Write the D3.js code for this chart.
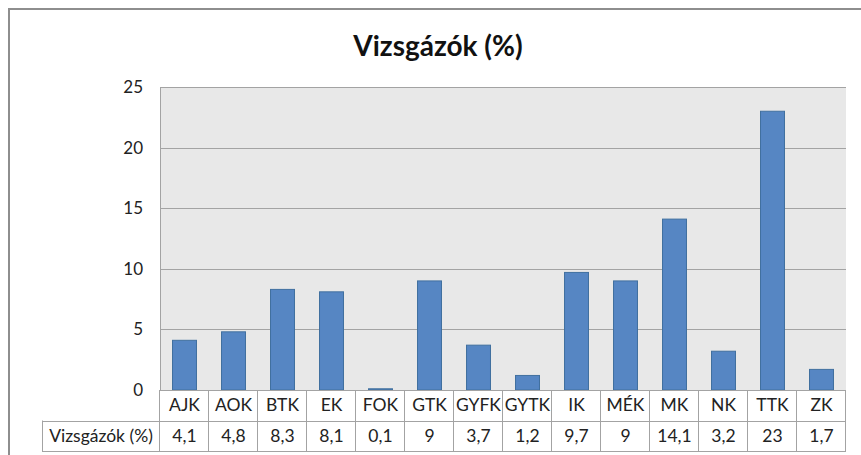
<!DOCTYPE html>
<html>
<head>
<meta charset="utf-8">
<script src="https://cdn.jsdelivr.net/npm/d3@7"></script>
<style>
  body { margin: 0; background: #fff; }
  svg { display: block; font-family: Lato, "Open Sans", sans-serif; }
</style>
</head>
<body>
<script>
// chart data
var categories = ["AJK", "AOK", "BTK", "EK", "FOK", "GTK", "GYFK", "GYTK", "IK", "MÉK", "MK", "NK", "TTK", "ZK"];
var values = [4.1, 4.8, 8.3, 8.1, 0.1, 9, 3.7, 1.2, 9.7, 9, 14.1, 3.2, 23, 1.7];
var yTicks = [0, 5, 10, 15, 20, 25];
var seriesName = "Vizsgázók (%)";
var title = "Vizsgázók (%)";

var W = 861, H = 455;
var plot = {left: 160, top: 87, right: 846, bottom: 390};
var tableLeft = 42, rowH = 30.5;

var svg = d3.select("body").append("svg")
    .attr("width", W)
    .attr("height", H);

// chart frame
svg.append("rect")
    .attr("x", 9).attr("y", 9)
    .attr("width", W).attr("height", H)
    .style("fill", "#fff")
    .style("stroke", "#8e8e8e")
    .style("stroke-width", 2);

svg.append("text")
    .attr("x", 438).attr("y", 56)
    .attr("text-anchor", "middle")
    .style("font-size", "28px")
    .style("font-weight", "bold")
    .style("fill", "#111")
    .text(title);

var x = d3.scaleBand()
    .domain(categories)
    .range([plot.left, plot.right])
    .paddingInner(0.49)
    .paddingOuter(0.245);

var bands = d3.scaleBand()
    .domain(categories)
    .range([plot.left, plot.right]);

var y = d3.scaleLinear()
    .domain([0, 25])
    .range([plot.bottom, plot.top]);

svg.append("rect")
    .attr("x", plot.left).attr("y", plot.top)
    .attr("width", plot.right - plot.left)
    .attr("height", plot.bottom - plot.top)
    .style("fill", "#e8e8e8");

// gridlines
svg.append("g")
    .selectAll("line")
    .data(yTicks.filter(function(d) { return d > 0; }))
    .enter().append("line")
    .attr("x1", plot.left).attr("x2", plot.right)
    .attr("y1", function(d) { return Math.round(y(d)) + 0.5; })
    .attr("y2", function(d) { return Math.round(y(d)) + 0.5; })
    .style("stroke", "#a3a3a3")
    .style("stroke-width", 1);

// y axis
var yAxis = svg.append("g")
    .attr("transform", "translate(" + plot.left + ",0)")
    .call(d3.axisLeft(y).tickValues(yTicks).tickSize(0).tickPadding(17));
yAxis.select(".domain").style("stroke", "#a3a3a3");
yAxis.selectAll("text")
    .style("font-family", "Lato, sans-serif")
    .style("font-size", "17px")
    .style("fill", "#222");

// bars
svg.append("g")
    .selectAll("rect")
    .data(values)
    .enter().append("rect")
    .attr("x", function(d, i) { return x(categories[i]) + 0.5; })
    .attr("y", function(d) { return y(d); })
    .attr("width", x.bandwidth() - 1)
    .attr("height", function(d) { return y(0) - y(d); })
    .style("fill", "#5686c3")
    .style("stroke", "#41709f")
    .style("stroke-width", 1);

// data table
var tbl = svg.append("g").style("font-size", "17.5px").style("fill", "#222");
var lineStyle = function(sel) {
    sel.style("stroke", "#a3a3a3").style("stroke-width", 1);
};
var r1 = plot.bottom, r2 = plot.bottom + rowH, r3 = plot.bottom + 2 * rowH;

tbl.append("line").attr("x1", plot.left).attr("x2", plot.right)
    .attr("y1", r1 + 0.5).attr("y2", r1 + 0.5).call(lineStyle);
tbl.append("line").attr("x1", tableLeft).attr("x2", plot.right)
    .attr("y1", Math.round(r2) + 0.5).attr("y2", Math.round(r2) + 0.5).call(lineStyle);
tbl.append("line").attr("x1", tableLeft).attr("x2", plot.right)
    .attr("y1", Math.round(r3) + 0.5).attr("y2", Math.round(r3) + 0.5).call(lineStyle);
tbl.append("line").attr("x1", tableLeft + 0.5).attr("x2", tableLeft + 0.5)
    .attr("y1", r2).attr("y2", r3).call(lineStyle);

var edges = categories.map(function(c) { return bands(c); }).concat([plot.right]);
tbl.selectAll("line.col")
    .data(edges)
    .enter().append("line")
    .attr("class", "col")
    .attr("x1", function(d) { return Math.round(d) - 0.5; })
    .attr("x2", function(d) { return Math.round(d) - 0.5; })
    .attr("y1", r1).attr("y2", r3)
    .call(lineStyle);

tbl.selectAll("text.cat")
    .data(categories)
    .enter().append("text")
    .attr("class", "cat")
    .attr("x", function(d) { return bands(d) + bands.bandwidth() / 2; })
    .attr("y", r1 + rowH / 2)
    .attr("dy", "0.35em")
    .attr("text-anchor", "middle")
    .text(function(d) { return d; });

tbl.selectAll("text.val")
    .data(values)
    .enter().append("text")
    .attr("class", "val")
    .attr("x", function(d, i) { return bands(categories[i]) + bands.bandwidth() / 2; })
    .attr("y", r2 + rowH / 2)
    .attr("dy", "0.35em")
    .attr("text-anchor", "middle")
    .text(function(d) { return String(d).replace(".", ","); });

tbl.append("text")
    .attr("x", (tableLeft + plot.left) / 2)
    .attr("y", r2 + rowH / 2)
    .attr("dy", "0.35em")
    .attr("text-anchor", "middle")
    .text(seriesName);
</script>
</body>
</html>
